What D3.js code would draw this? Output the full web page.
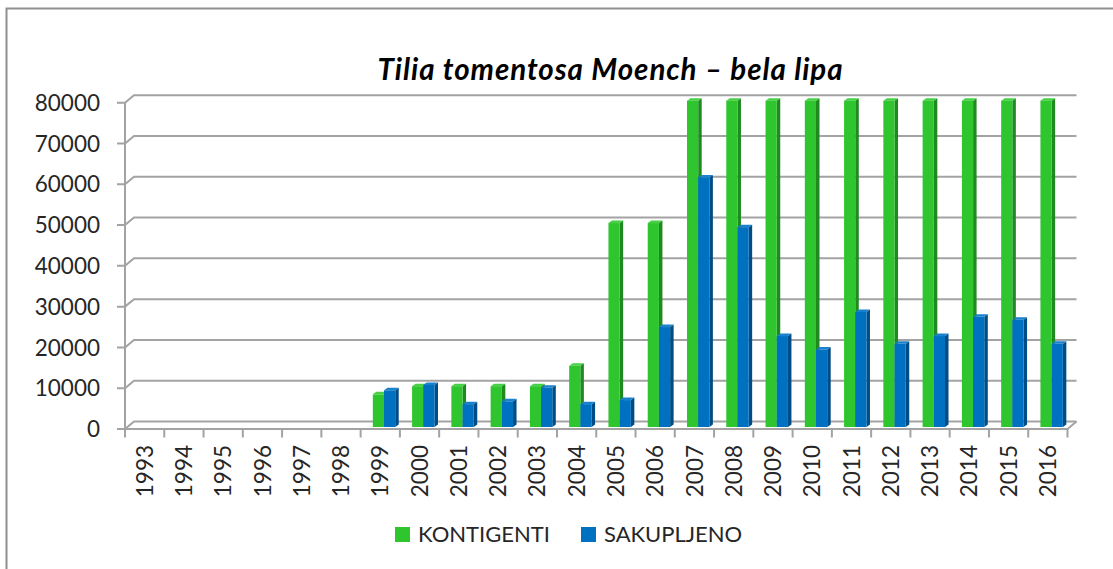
<!DOCTYPE html>
<html lang="en">
<head>
<meta charset="UTF-8">
<title>Tilia tomentosa</title>
<style>
    body { margin: 0; background: #fff; }
    text { font-family: Lato, "Open Sans", sans-serif; fill: #262626; }
</style>
<script src="https://d3js.org/d3.v7.min.js"></script>
</head>
<body>
<svg width="1113" height="569"></svg>
<script>
    // data
    var years = ["1993", "1994", "1995", "1996", "1997", "1998", "1999", "2000", "2001", "2002", "2003", "2004",
        "2005", "2006", "2007", "2008", "2009", "2010", "2011", "2012", "2013", "2014", "2015", "2016"];
    var kontigenti = [0, 0, 0, 0, 0, 0, 8000, 10000, 10000, 10000, 10000, 15000,
        50000, 50000, 80000, 80000, 80000, 80000, 80000, 80000, 80000, 80000, 80000, 80000];
    var sakupljeno = [0, 0, 0, 0, 0, 0, 9000, 10300, 5600, 6300, 9600, 5600,
        6600, 24500, 61200, 49000, 22300, 19000, 28200, 20400, 22300, 27000, 26300, 20400];
    var seriesNames = ["KONTIGENTI", "SAKUPLJENO"];
    var yTicks = [0, 10000, 20000, 30000, 40000, 50000, 60000, 70000, 80000];

    var colors = {
        KONTIGENTI: { front: "#2ec52e", side: "#1f8a1f", top: "#45d045" },
        SAKUPLJENO: { front: "#0070c0", side: "#004c85", top: "#1a82cc" }
    };

    var svg = d3.select("svg");

    // outer frame (only top/left visible)
    svg.append("rect")
        .attr("x", 6.5).attr("y", 8.5)
        .attr("width", 1300).attr("height", 1000)
        .attr("fill", "none").attr("stroke", "#8f8f8f").attr("stroke-width", 2);

    var x0 = 125, x1 = 1067.5;
    var depthX = 9, depthY = -7.5;   // floor / wall depth
    var barDx = 3.5, barDy = -2.5;   // bar top/side depth
    var barShiftX = 3, barShiftY = -2;

    var x = d3.scaleBand().domain(years).range([x0, x1]);
    var xs = d3.scaleBand().domain(seriesNames).range([9.2, 31.6]);
    var y = d3.scaleLinear().domain([0, 80000]).range([429, 102.7]);

    // gridlines (side wall + back wall)
    svg.append("g").selectAll("path")
        .data(yTicks)
        .enter().append("path")
        .attr("fill", "none")
        .attr("stroke", "#a3a3a3")
        .attr("stroke-width", 2)
        .attr("d", function (d) {
            var yy = y(d);
            return "M" + (x0 - 8) + "," + yy + "L" + x0 + "," + yy +
                "L" + (x0 + depthX) + "," + (yy + depthY) + "L" + (x1 + depthX) + "," + (yy + depthY);
        });

    // left vertical wall edge
    svg.append("line")
        .attr("x1", x0).attr("x2", x0)
        .attr("y1", y(80000)).attr("y2", y(0))
        .attr("stroke", "#a3a3a3").attr("stroke-width", 2);

    // floor front edge + right edge
    svg.append("path")
        .attr("fill", "none").attr("stroke", "#a3a3a3").attr("stroke-width", 2)
        .attr("d", "M" + x0 + "," + y(0) + "L" + x1 + "," + y(0) + "L" + (x1 + depthX) + "," + (y(0) + depthY));

    // category ticks
    var tickPos = years.map(function (d) { return x(d); }).concat([x1]);
    svg.selectAll("line.xt")
        .data(tickPos)
        .enter().append("line")
        .attr("class", "xt")
        .attr("x1", function (d) { return d; }).attr("x2", function (d) { return d; })
        .attr("y1", y(0)).attr("y2", y(0) + 8.5)
        .attr("stroke", "#a3a3a3").attr("stroke-width", 2);

    // bars
    var bars = [];
    years.forEach(function (yr, i) {
        bars.push({ year: yr, s: "KONTIGENTI", v: kontigenti[i] });
        bars.push({ year: yr, s: "SAKUPLJENO", v: sakupljeno[i] });
    });
    bars = bars.filter(function (d) { return d.v > 0; });

    var bw = xs.bandwidth();
    var bg = svg.append("g").selectAll("g")
        .data(bars)
        .enter().append("g")
        .attr("transform", function (d) {
            return "translate(" + (x(d.year) + xs(d.s) + barShiftX) + "," + barShiftY + ")";
        });

    // side face
    bg.append("path")
        .attr("fill", function (d) { return colors[d.s].side; })
        .attr("d", function (d) {
            var t = y(d.v), b = y(0);
            return "M" + bw + "," + t + "L" + (bw + barDx) + "," + (t + barDy) +
                "L" + (bw + barDx) + "," + (b + barDy) + "L" + bw + "," + b + "Z";
        });
    // top face
    bg.append("path")
        .attr("fill", function (d) { return colors[d.s].top; })
        .attr("d", function (d) {
            var t = y(d.v);
            return "M0," + t + "L" + barDx + "," + (t + barDy) + "L" + (bw + barDx) + "," + (t + barDy) +
                "L" + bw + "," + t + "Z";
        });
    // front face
    bg.append("rect")
        .attr("x", 0)
        .attr("y", function (d) { return y(d.v); })
        .attr("width", bw)
        .attr("height", function (d) { return y(0) - y(d.v); })
        .attr("fill", function (d) { return colors[d.s].front; });

    // y labels
    svg.selectAll("text.yl")
        .data(yTicks)
        .enter().append("text")
        .attr("class", "yl")
        .attr("x", 100)
        .attr("y", function (d) { return y(d); })
        .attr("dy", "0.36em")
        .attr("text-anchor", "end")
        .style("font-size", "22.5px")
        .text(function (d) { return d; });

    // x labels
    svg.selectAll("text.xl")
        .data(years)
        .enter().append("text")
        .attr("class", "xl")
        .attr("transform", function (d) {
            return "translate(" + (x(d) + x.bandwidth() / 2) + "," + 445 + ") rotate(-90)";
        })
        .attr("dy", "0.36em")
        .attr("text-anchor", "end")
        .style("font-size", "22.5px")
        .text(function (d) { return d; });

    // title
    svg.append("text")
        .attr("x", 610)
        .attr("y", 80)
        .attr("text-anchor", "middle")
        .attr("textLength", 465)
        .attr("lengthAdjust", "spacing")
        .style("font-size", "29.5px")
        .style("font-weight", "bold")
        .style("font-style", "italic")
        .style("fill", "#000")
        .text("Tilia tomentosa Moench \u2013 bela lipa");

    // legend
    var legendX = [395, 581];
    var lg = svg.selectAll("g.lg")
        .data(seriesNames)
        .enter().append("g")
        .attr("class", "lg")
        .attr("transform", function (d, i) { return "translate(" + legendX[i] + ",527)"; });
    lg.append("rect")
        .attr("width", 15).attr("height", 15)
        .attr("fill", function (d) { return colors[d].front; });
    lg.append("text")
        .attr("x", 23).attr("y", 7.5).attr("dy", "0.36em")
        .style("font-size", "22px")
        .text(function (d) { return d; });
</script>
</body>
</html>
